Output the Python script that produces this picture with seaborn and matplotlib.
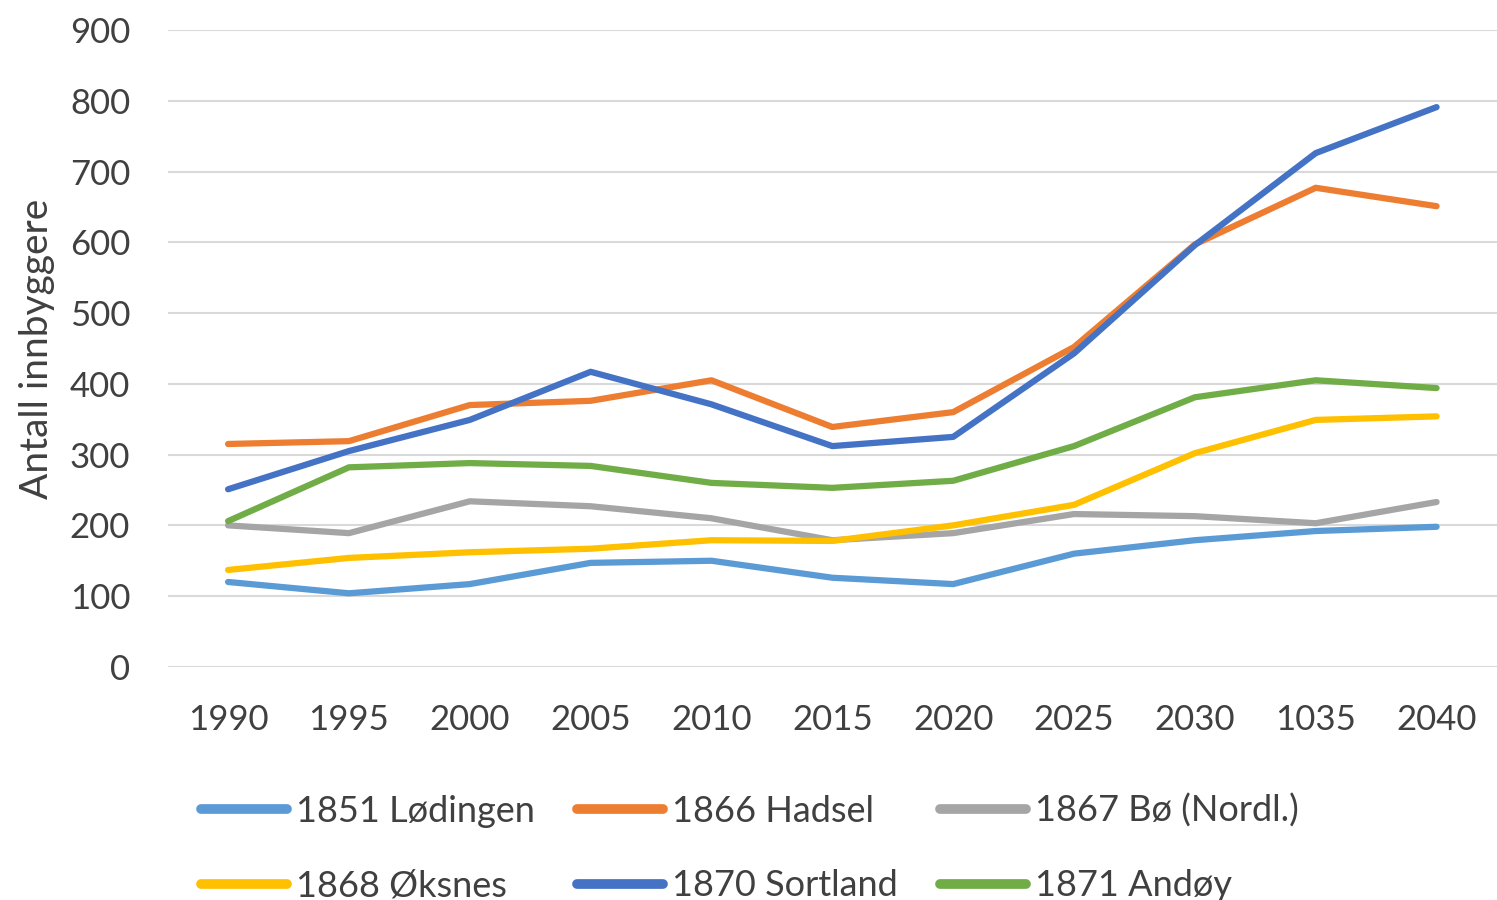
import matplotlib
matplotlib.use("Agg")
import matplotlib.pyplot as plt
import seaborn as sns
import pandas as pd

years = ["1990", "1995", "2000", "2005", "2010", "2015", "2020", "2025", "2030", "1035", "2040"]
lodingen = [120, 104, 117, 147, 150, 126, 117, 160, 179, 192, 198]
hadsel = [315, 319, 370, 376, 405, 339, 360, 452, 597, 677, 651]
bo = [200, 189, 234, 227, 210, 179, 189, 216, 213, 203, 233]
oksnes = [137, 154, 162, 167, 179, 178, 200, 229, 302, 349, 354]
sortland = [251, 305, 349, 417, 371, 312, 325, 443, 596, 726, 791]
andoy = [206, 282, 288, 284, 260, 253, 263, 312, 381, 405, 394]

series_names = ["1851 Lødingen", "1866 Hadsel", "1867 Bø (Nordl.)",
                "1868 Øksnes", "1870 Sortland", "1871 Andøy"]
series_values = [lodingen, hadsel, bo, oksnes, sortland, andoy]
colors = ["#5B9BD5", "#ED7D31", "#A5A5A5", "#FFC000", "#4472C4", "#70AD47"]

rows = []
for name, vals in zip(series_names, series_values):
    for y, v in zip(years, vals):
        rows.append({"År": y, "Antall": v, "Kommune": name})
df = pd.DataFrame(rows)

sns.set_theme(style="white")
plt.rcParams["font.family"] = ["Lato", "DejaVu Sans"]

fig = plt.figure(figsize=(14.97, 9.0), dpi=100)
ax = fig.add_axes([0.112, 0.259, 0.888, 0.7077])

sns.lineplot(data=df, x="År", y="Antall", hue="Kommune", palette=colors,
             hue_order=series_names, linewidth=4.5, sort=False, ax=ax,
             legend=True)

ax.set_ylim(0, 900)
ax.set_xlim(-0.5, 10.5)
ax.set_yticks(range(0, 901, 100))
ax.yaxis.grid(True, color="#D9D9D9", linewidth=1.5)
ax.xaxis.grid(False)
ax.set_axisbelow(True)
for s in ax.spines.values():
    s.set_visible(False)
ax.tick_params(axis="both", labelsize=25, labelcolor="#404040", length=0)
ax.tick_params(axis="y", pad=27)
ax.tick_params(axis="x", pad=27)
ax.set_xlabel("")
ax.set_ylabel("Antall innbyggere", fontsize=28, color="#404040")
ax.yaxis.set_label_coords(-0.085, 0.5)

handles, labels = ax.get_legend_handles_labels()
ax.legend_.remove()
for h in handles:
    h.set_linewidth(7)
order = [0, 3, 1, 4, 2, 5]
handles = [handles[i] for i in order]
labels = [labels[i] for i in order]
fig.legend(handles, labels, ncol=3, loc="upper left",
           bbox_to_anchor=(0.122, 0.138), frameon=False, fontsize=26,
           handlelength=2.4, handletextpad=0.25, columnspacing=1.15,
           labelspacing=1.15, borderpad=0, labelcolor="#404040")

fig.savefig("out.png", dpi=100)
